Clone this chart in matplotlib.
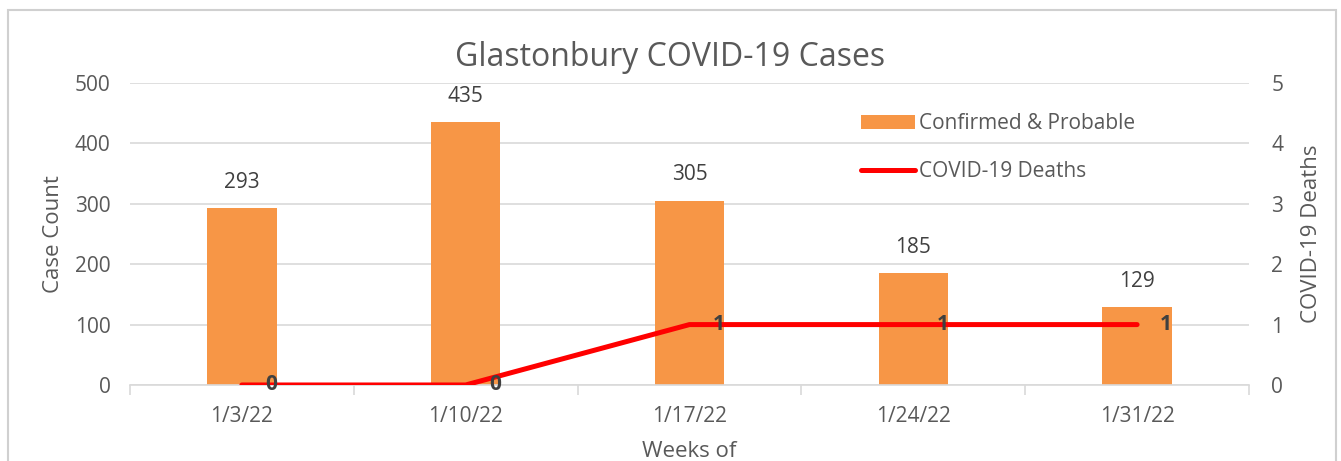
import matplotlib as mpl
from matplotlib import pyplot as plt
from matplotlib.patches import Rectangle
import numpy as np

text_color = '#595959'
grid_color = '#d9d9d9'

mpl.rcParams['font.family'] = ['Open Sans', 'DejaVu Sans']
mpl.rcParams['text.color'] = text_color
mpl.rcParams['xtick.color'] = text_color
mpl.rcParams['ytick.color'] = text_color

weeks = ['1/3/22', '1/10/22', '1/17/22', '1/24/22', '1/31/22']
cases = [293, 435, 305, 185, 129]
deaths = [0, 0, 1, 1, 1]

fig = plt.figure(figsize=(13.41, 4.61), dpi=100)
fig.patches.append(Rectangle((8 / 1341, -0.1), 1328 / 1341, 1.1 - 10 / 461,
                             transform=fig.transFigure, fill=False,
                             edgecolor='#d0d0d0', linewidth=1.5))

ax = fig.add_axes([0.0969, 0.1649, 0.8345, 0.6551])
x = np.arange(len(weeks))
bars = ax.bar(x, cases, width=0.31, color='#f79646', label='Confirmed & Probable', zorder=2)
ax.set_xlim(-0.5, len(weeks) - 0.5)
ax.set_ylim(0, 500)
ax.set_yticks(range(0, 501, 100))
ax.grid(axis='y', color=grid_color, linewidth=1.2, zorder=0)
ax.set_axisbelow(True)
for s in ['top', 'right', 'left']:
    ax.spines[s].set_visible(False)
ax.spines['bottom'].set_color(grid_color)
ax.spines['bottom'].set_linewidth(1.2)
ax.set_xticks(x, labels=weeks)
ax.set_xticks(np.arange(-0.5, len(weeks), 1.0), minor=True)
ax.tick_params(axis='x', which='major', length=0, pad=15, labelsize=15)
ax.tick_params(axis='x', which='minor', length=7, color=grid_color, width=1.2)
ax.tick_params(axis='y', length=0, pad=14, labelsize=15)
ax.set_ylabel('Case Count', fontsize=16, color=text_color, labelpad=8)
ax.set_xlabel('Weeks of', fontsize=16, color=text_color, labelpad=10)
for xi, v in zip(x, cases):
    ax.annotate(str(v), (xi, v), xytext=(0, 11), textcoords='offset points',
                ha='center', va='bottom', fontsize=15, color='#404040')

ax2 = ax.twinx()
line, = ax2.plot(x, deaths, color='#ff0000', linewidth=3.6, solid_capstyle='round',
                 label='COVID-19 Deaths', zorder=3)
ax2.set_ylim(0, 5)
ax2.set_yticks(range(0, 6))
for s in ['top', 'right', 'left', 'bottom']:
    ax2.spines[s].set_visible(False)
ax2.tick_params(axis='y', length=0, pad=16, labelsize=15)
ax2.set_ylabel('COVID-19 Deaths', fontsize=16, color=text_color, labelpad=13)
for xi, v in zip(x, deaths):
    ax2.annotate(str(v), (xi, v), xytext=(21, 0), textcoords='offset points',
                 ha='center', va='center', fontsize=15, fontweight='bold', color='#404040')

fig.text(0.5, 0.875, 'Glastonbury COVID-19 Cases', ha='center', va='center',
         fontsize=23, color=text_color)

fig.legend([bars, line], ['Confirmed & Probable', 'COVID-19 Deaths'],
           loc='upper left', bbox_to_anchor=(0.628, 0.795), frameon=False,
           fontsize=15, labelspacing=1.3, handlelength=2.6, handletextpad=0.2,
           labelcolor=text_color)

fig.savefig('out.png', dpi=100)
